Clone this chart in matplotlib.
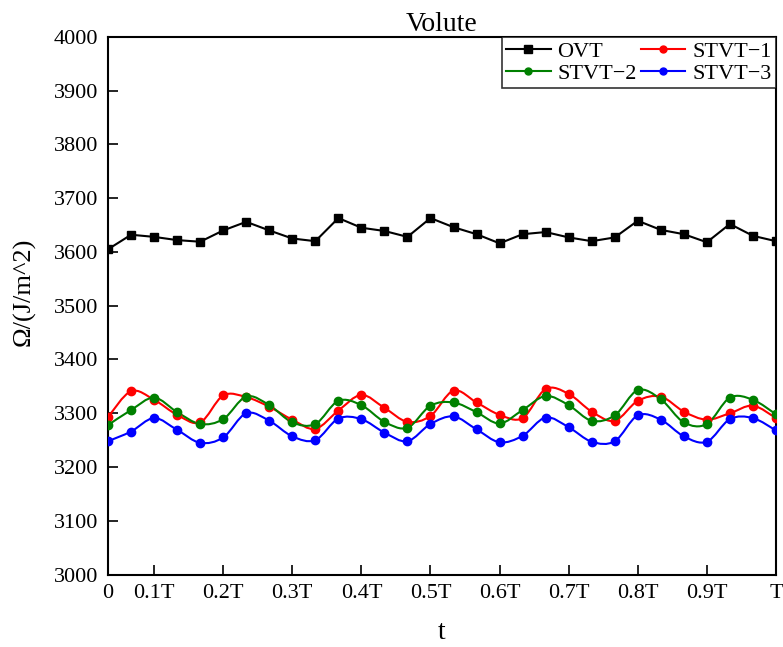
import numpy as np
import matplotlib
matplotlib.use("Agg")
import matplotlib.pyplot as plt
from matplotlib.path import Path
from matplotlib.patches import PathPatch

plt.rcParams['font.family'] = ['Liberation Serif', 'DejaVu Serif']
plt.rcParams['mathtext.fontset'] = 'stix'

# sample index k = 1..30, time = k/30 T
k = np.arange(1, 31)
t = k / 30.0

ovt = [3605, 3632, 3628, 3622, 3619, 3640, 3656, 3640, 3625, 3620,
       3663, 3645, 3639, 3628, 3663, 3646, 3633, 3616, 3633, 3637,
       3627, 3620, 3627, 3658, 3641, 3633, 3618, 3652, 3630, 3620]
stvt1 = [3293, 3341, 3325, 3297, 3283, 3333, 3330, 3312, 3288, 3271,
         3305, 3334, 3310, 3284, 3295, 3342, 3320, 3297, 3291, 3345,
         3336, 3303, 3286, 3323, 3331, 3303, 3288, 3300, 3314, 3291]
stvt2 = [3278, 3306, 3329, 3302, 3280, 3289, 3331, 3315, 3283, 3280,
         3323, 3315, 3284, 3273, 3314, 3320, 3302, 3281, 3306, 3332,
         3315, 3286, 3296, 3343, 3326, 3283, 3280, 3329, 3325, 3298]
stvt3 = [3248, 3266, 3291, 3269, 3245, 3255, 3300, 3286, 3257, 3250,
         3290, 3289, 3264, 3248, 3280, 3294, 3270, 3246, 3258, 3292,
         3274, 3247, 3248, 3296, 3288, 3257, 3247, 3289, 3291, 3268]

xtick_pos = [1/30, 0.1, 0.2, 0.3, 0.4, 0.5, 0.6, 0.7, 0.8, 0.9, 1.0]
xtick_labels = ['0', '0.1T', '0.2T', '0.3T', '0.4T', '0.5T', '0.6T', '0.7T', '0.8T', '0.9T', 'T']
yticks = np.arange(3000, 4001, 100)


def smooth_path(x, y):
    x = np.asarray(x, float)
    y = np.asarray(y, float)
    pts = np.column_stack([x, y])
    verts = [pts[0]]
    codes = [Path.MOVETO]
    n = len(pts)
    for i in range(n - 1):
        p0 = pts[i - 1] if i > 0 else pts[i]
        p1 = pts[i]
        p2 = pts[i + 1]
        p3 = pts[i + 2] if i + 2 < n else pts[i + 1]
        c1 = p1 + (p2 - p0) / 6.0
        c2 = p2 - (p3 - p1) / 6.0
        verts += [c1, c2, p2]
        codes += [Path.CURVE4] * 3
    return Path(verts, codes)


fig = plt.figure(figsize=(7.83, 6.47), dpi=100)
ax = fig.add_axes([0.138, 0.112, 0.853, 0.831])

handles = {}
h, = ax.plot(t, ovt, color='black', lw=1.5, marker='s', ms=5.5, label='OVT', zorder=3)
handles['OVT'] = h

for vals, col, name in [(stvt1, '#ff0000', 'STVT\u22121'),
                        (stvt2, '#008000', 'STVT\u22122'),
                        (stvt3, '#0000ff', 'STVT\u22123')]:
    ax.add_patch(PathPatch(smooth_path(t, vals), facecolor='none',
                           edgecolor=col, lw=1.5, zorder=3))
    ax.plot(t, vals, ls='none', marker='o', ms=6, color=col, zorder=4)
    h, = ax.plot([], [], color=col, lw=1.5, marker='o', ms=5, label=name)
    handles[name] = h

ax.set_xlim(1/30, 1.0)
ax.set_ylim(3000, 4000)
ax.set_xticks(xtick_pos)
ax.set_xticklabels(xtick_labels)
ax.set_yticks(yticks)
ax.tick_params(direction='in', length=7, width=1.2, labelsize=16, pad=7,
               top=False, right=False)
for s in ax.spines.values():
    s.set_linewidth(1.5)

ax.set_title('Volute', fontsize=20, pad=1)
ax.set_ylabel('\u03a9/(J/m^2)', fontsize=19)
ax.yaxis.set_label_coords(-0.108, 0.525)
ax.set_xlabel('t', fontsize=20, labelpad=12)

order = ['OVT', 'STVT\u22122', 'STVT\u22121', 'STVT\u22123']
leg = ax.legend([handles[n] for n in order], order, loc='upper right', ncol=2,
                fontsize=16, frameon=True, fancybox=False, edgecolor='black',
                borderaxespad=0, handlelength=2.0, columnspacing=0.2,
                handletextpad=0.3, borderpad=0.2, labelspacing=0.05)
leg.get_frame().set_linewidth(1.2)

fig.savefig('out.png', dpi=100)
